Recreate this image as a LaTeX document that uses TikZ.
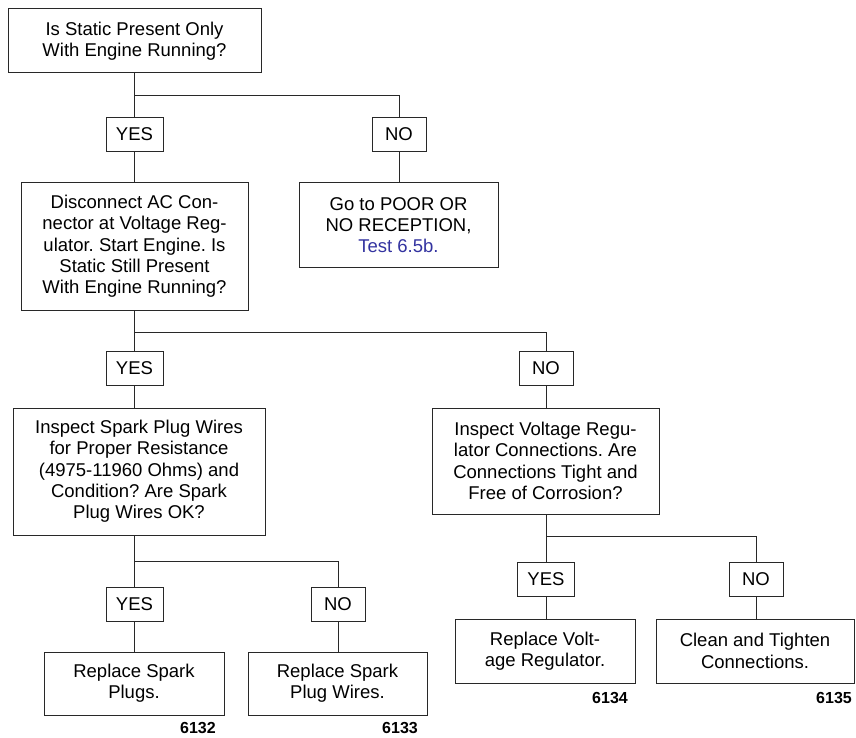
\documentclass[tikz,border=0pt]{standalone}
\usepackage{fontspec}
\setmainfont{Liberation Sans}
\frenchspacing
\definecolor{linkblue}{RGB}{51,51,160}
\definecolor{boxline}{RGB}{40,40,40}
\begin{document}
\begin{tikzpicture}[x=1pt,y=-1pt,
  box/.style={draw=boxline,line width=1pt,inner sep=0pt,align=center,
    font={\fontsize{18.5}{21.3}\selectfont\frenchspacing}},
  tag/.style={draw=boxline,line width=1pt,inner sep=0pt,minimum width=57pt,minimum height=34pt,
    font={\fontsize{18.5}{21.3}\selectfont}},
  notag/.style={tag,minimum width=54pt},
  fig/.style={font={\fontsize{16}{18}\selectfont\bfseries},inner sep=0pt},
  conn/.style={draw=boxline,line width=1pt}]
\useasboundingbox (0,0) rectangle (856,738);

% row 1
\node[box,minimum width=253pt,minimum height=64pt] (q1) at (134.5,41) {Is Static Present Only\\With Engine Running?};
\node[tag] (yes1) at (134.5,134.5) {YES};
\node[notag] (no1) at (399,134.5) {NO};
\node[box,minimum width=227pt,minimum height=127pt] (q2) at (134.5,246.5) {Disconnect AC Con-\\nector at Voltage Reg-\\ulator. Start Engine. Is\\Static Still Present\\With Engine Running?};
\node[box,minimum width=199pt,minimum height=84pt] (r1) at (398.5,225) {Go to POOR OR\\NO RECEPTION,\\\textcolor{linkblue}{Test 6.5b.}};

% row 2
\node[tag] (yes2) at (134.5,368.5) {YES};
\node[notag] (no2) at (546,368.5) {NO};
\node[box,minimum width=252pt,minimum height=127pt] (q3) at (139,471.5) {Inspect Spark Plug Wires\\for Proper Resistance\\(4975-11960 Ohms) and\\Condition? Are Spark\\Plug Wires OK?};
\node[box,minimum width=227pt,minimum height=106pt] (q4) at (545.5,461) {Inspect Voltage Regu-\\lator Connections. Are\\Connections Tight and\\Free of Corrosion?};

% row 3 left
\node[tag] (yes3) at (134.5,604) {YES};
\node[notag] (no3) at (338,604) {NO};
\node[box,minimum width=180pt,minimum height=63pt] (r2) at (134,683.5) {Replace Spark\\Plugs.};
\node[box,minimum width=179pt,minimum height=63pt] (r3) at (337.5,683.5) {Replace Spark\\Plug Wires.};

% row 3 right
\node[tag] (yes4) at (546,579.5) {YES};
\node[notag] (no4) at (756,579.5) {NO};
\node[box,minimum width=180pt,minimum height=64pt] (r4) at (545,651) {Replace Volt-\\age Regulator.};
\node[box,minimum width=198pt,minimum height=64pt] (r5) at (755,651) {Clean and Tighten\\Connections.};

% figure numbers
\node[fig] (f1) at (198,728) {6132};
\node[fig] (f2) at (400,728) {6133};
\node[fig] (f3) at (610,698) {6134};
\node[fig] (f4) at (834,698) {6135};

% junctions
\coordinate (j1) at (134.5,96);
\coordinate (j2) at (134.5,332);
\coordinate (j3) at (134.5,561);
\coordinate (j4) at (546,536);

% connectors
\draw[conn] (q1.south) -- (yes1.north);
\draw[conn] (j1) -| (no1.north);
\draw[conn] (yes1.south) -- (q2.north);
\draw[conn] (no1.south) -- (no1.south |- r1.north);

\draw[conn] (q2.south) -- (yes2.north);
\draw[conn] (j2) -| (no2.north);
\draw[conn] (yes2.south) -- (yes2.south |- q3.north);
\draw[conn] (no2.south) -- (no2.south |- q4.north);

\draw[conn] (q3.south -| yes3.north) -- (yes3.north);
\draw[conn] (j3) -| (no3.north);
\draw[conn] (yes3.south) -- (yes3.south |- r2.north);
\draw[conn] (no3.south) -- (no3.south |- r3.north);

\draw[conn] (q4.south -| yes4.north) -- (yes4.north);
\draw[conn] (j4) -| (no4.north);
\draw[conn] (yes4.south) -- (yes4.south |- r4.north);
\draw[conn] (no4.south) -- (no4.south |- r5.north);
\end{tikzpicture}
\end{document}
